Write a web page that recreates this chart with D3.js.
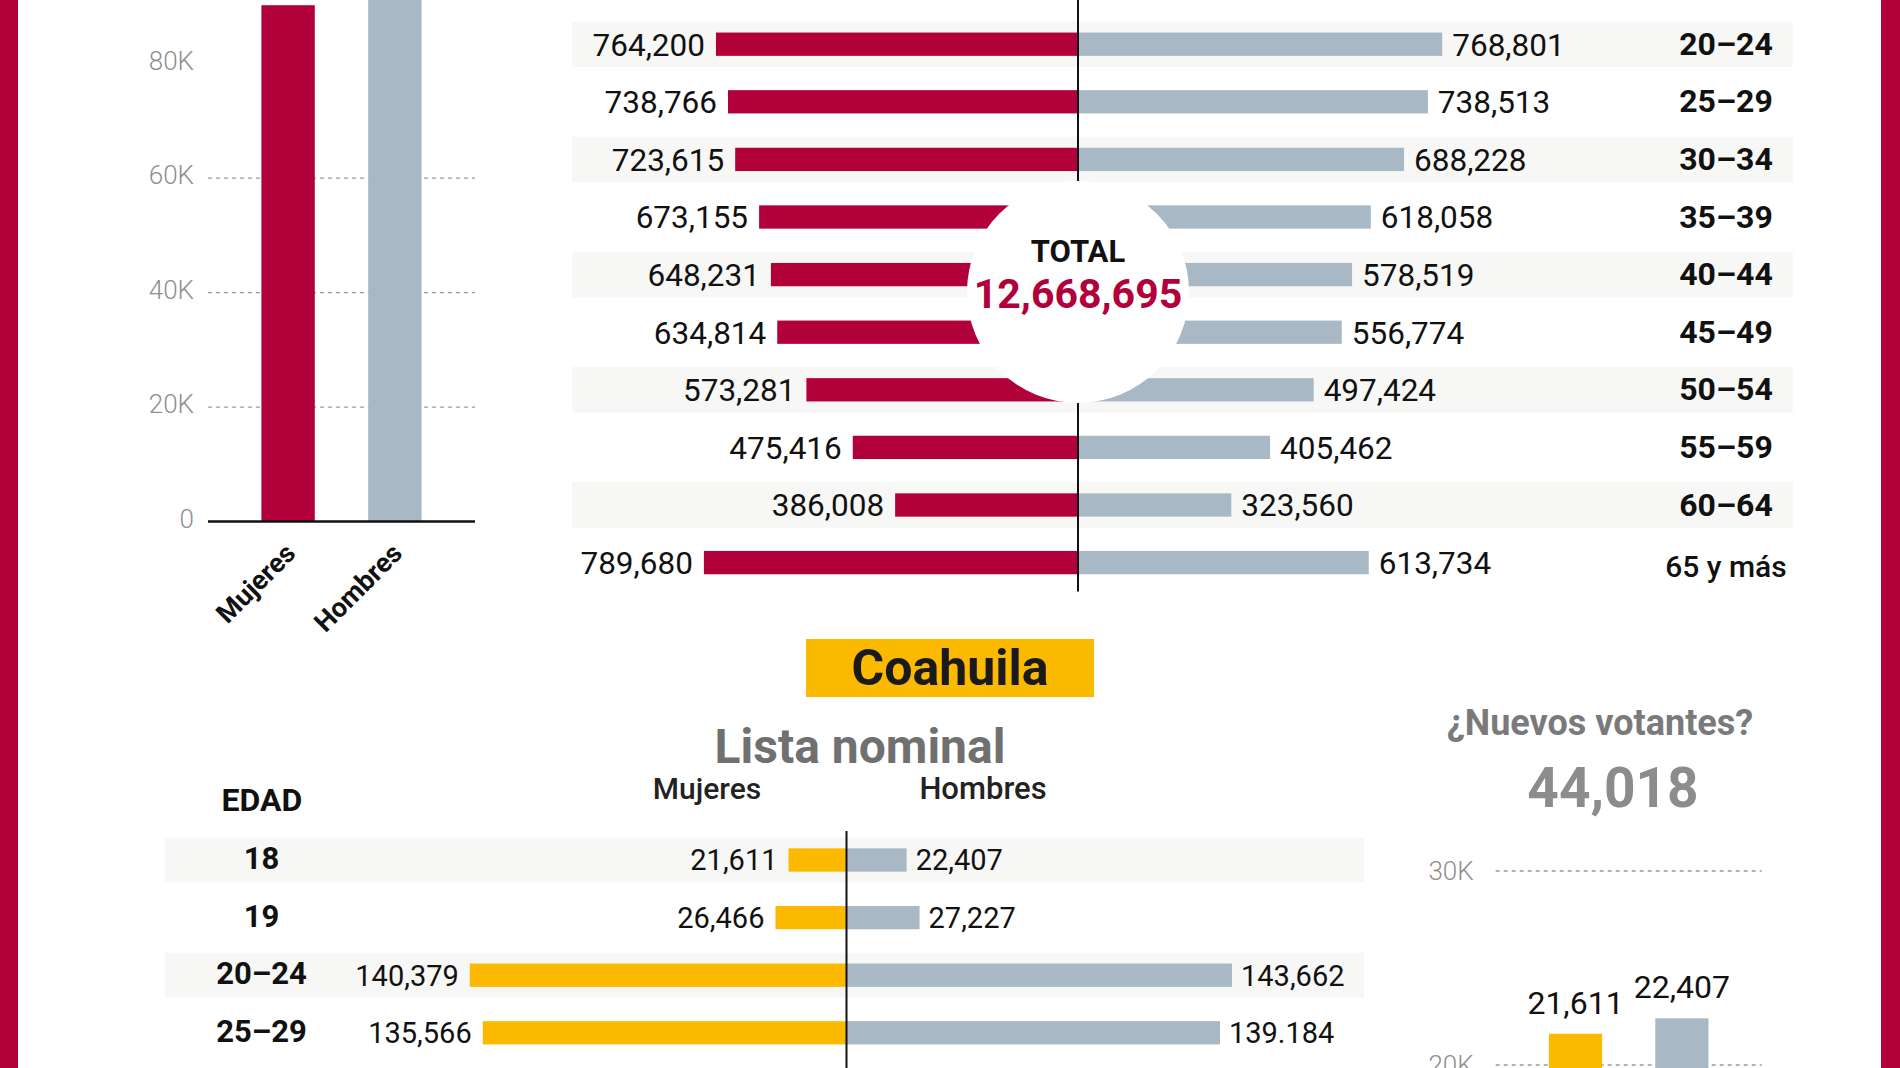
<!DOCTYPE html>
<html><head><meta charset="utf-8">
<script src="https://cdn.jsdelivr.net/npm/d3@7"></script>
<style>
body{margin:0;background:#fff}
svg{display:block}
text{font-family:Roboto,"Noto Sans",sans-serif}
</style>
</head><body>
<svg id="c" width="1900" height="1068"></svg>
<script>
// ---------- DATA ----------
const sexes = ["Mujeres", "Hombres"];
const jovenes18 = [90200, 94000];
const leftTicks = [0, 20000, 40000, 60000, 80000];
const leftGrid = [20000, 40000, 60000];

const ageGroups = ["20–24","25–29","30–34","35–39","40–44","45–49","50–54","55–59","60–64","65 y más"];
const mujeres = [764200, 738766, 723615, 673155, 648231, 634814, 573281, 475416, 386008, 789680];
const hombres = [768801, 738513, 688228, 618058, 578519, 556774, 497424, 405462, 323560, 613734];
const totalLabel = "12,668,695";

const coahAges = ["18", "19", "20–24", "25–29"];
const coahMujeres = [21611, 26466, 140379, 135566];
const coahHombres = [22407, 27227, 143662, 139184];
const coahHombresLabels = ["22,407", "27,227", "143,662", "139.184"];

const nuevos = [21611, 22407];
const nuevosTicks = [20000, 30000];
const nuevosTotal = "44,018";

// ---------- STYLE ----------
const RED = "#b1003a", GRAY = "#a8b9c5", YELLOW = "#fbb900", BAND = "#f7f7f5";
const fmt = d3.format(",");
const svg = d3.select("#c");

// border
svg.append("rect").attr("x",0).attr("y",0).attr("width",18).attr("height",1068).attr("fill",RED);
svg.append("rect").attr("x",1881).attr("y",0).attr("width",19).attr("height",1068).attr("fill",RED);

// ---------- LEFT COLUMN CHART ----------
const yL = d3.scaleLinear().domain([0, 80000]).range([521.6, 63.6]);
const xL = d3.scaleBand().domain(sexes).range([208, 475]).paddingInner(0.5).paddingOuter(0.5);
const gL = svg.append("g");
gL.selectAll(".grid").data(leftGrid).join("line")
  .attr("x1",208).attr("x2",475).attr("y1",d=>yL(d)).attr("y2",d=>yL(d))
  .attr("stroke","#9a9a9a").attr("stroke-width",1.3).attr("stroke-dasharray","4,4");
const axL = gL.append("g").attr("transform","translate(208,0)")
  .call(d3.axisLeft(yL).tickValues(leftTicks).tickSize(0).tickPadding(14).tickFormat(d=> d===0 ? "0" : (d/1000)+"K"));
axL.select(".domain").remove();
axL.selectAll("text").attr("font-size",26).attr("fill","#8f8f8f").attr("font-family","Roboto").attr("font-weight",300).attr("dy","0.22em");
gL.selectAll(".bar").data(sexes).join("rect")
  .attr("x",d=>xL(d)).attr("width",xL.bandwidth())
  .attr("y",(d,i)=>yL(jovenes18[i])).attr("height",(d,i)=>yL(0)-yL(jovenes18[i]))
  .attr("fill",(d,i)=> i===0 ? RED : GRAY);
gL.append("line").attr("x1",208).attr("x2",475).attr("y1",yL(0)).attr("y2",yL(0))
  .attr("stroke","#111").attr("stroke-width",2.5);
gL.selectAll(".xl").data(sexes).join("text")
  .attr("transform",d=>`translate(${xL(d)+xL.bandwidth()/2+9},555) rotate(-45)`)
  .attr("text-anchor","end").attr("font-size",27).attr("font-weight",700).attr("fill","#111")
  .text(d=>d);

// ---------- TOP PYRAMID ----------
const cx0 = 1078;
const yT = d3.scaleBand().domain(ageGroups).range([15.4, 591.4]);
const xT = d3.scaleLinear().domain([0, 800000]).range([0, 379]);
const gT = svg.append("g");
const rowC = a => yT(a) + yT.bandwidth()/2;
gT.selectAll(".band").data(ageGroups.filter((a,i)=>i%2===0)).join("rect")
  .attr("x",572).attr("width",1793-572).attr("y",a=>rowC(a)-22.8).attr("height",45.6).attr("fill",BAND);
gT.selectAll(".bm").data(ageGroups).join("rect")
  .attr("x",(a,i)=>cx0 - xT(mujeres[i])).attr("width",(a,i)=>xT(mujeres[i]))
  .attr("y",a=>rowC(a)-11.65).attr("height",23.3).attr("fill",RED);
gT.selectAll(".bh").data(ageGroups).join("rect")
  .attr("x",cx0).attr("width",(a,i)=>xT(hombres[i]))
  .attr("y",a=>rowC(a)-11.65).attr("height",23.3).attr("fill",GRAY);
gT.append("line").attr("x1",cx0).attr("x2",cx0).attr("y1",0).attr("y2",591.4)
  .attr("stroke","#111").attr("stroke-width",2);
gT.selectAll(".lm").data(ageGroups).join("text")
  .attr("x",(a,i)=>cx0 - xT(mujeres[i]) - 11).attr("y",a=>rowC(a)).attr("dy","0.36em")
  .attr("text-anchor","end").attr("font-size",31.5).attr("fill","#111").text((a,i)=>fmt(mujeres[i]));
gT.selectAll(".lh").data(ageGroups).join("text")
  .attr("x",(a,i)=>cx0 + xT(hombres[i]) + 10).attr("y",a=>rowC(a)).attr("dy","0.36em")
  .attr("text-anchor","start").attr("font-size",31.5).attr("fill","#111").text((a,i)=>fmt(hombres[i]));
gT.selectAll(".age").data(ageGroups).join("text")
  .attr("x",1726).attr("y",(a,i)=>rowC(a) + (i===ageGroups.length-1 ? 4 : -1)).attr("dy","0.36em")
  .attr("text-anchor","middle").attr("font-size",(a,i)=> i===ageGroups.length-1 ? 30 : 32)
  .attr("font-weight",(a,i)=> i===ageGroups.length-1 ? 500 : 700).attr("fill","#111").text(a=>a);
// total circle
gT.append("circle").attr("cx",cx0).attr("cy",292).attr("r",111).attr("fill","#fff");
gT.append("text").attr("x",cx0).attr("y",262).attr("text-anchor","middle")
  .attr("font-size",31).attr("font-weight",700).attr("fill","#111").text("TOTAL");
gT.append("text").attr("x",cx0).attr("y",308).attr("text-anchor","middle")
  .attr("font-size",41).attr("font-weight",700).attr("fill",RED).text(totalLabel);

// ---------- COAHUILA ----------
svg.append("rect").attr("x",806).attr("y",639).attr("width",288).attr("height",58).attr("fill",YELLOW);
svg.append("text").attr("x",950).attr("y",685).attr("text-anchor","middle")
  .attr("font-size",50).attr("font-weight",700).attr("fill","#1a1a1a").text("Coahuila");
svg.append("text").attr("x",860).attr("y",763).attr("text-anchor","middle")
  .attr("font-size",48).attr("font-weight",700).attr("fill","#707070").text("Lista nominal");
svg.append("text").attr("x",707).attr("y",799).attr("text-anchor","middle")
  .attr("font-size",30).attr("font-weight",500).attr("fill","#222").text("Mujeres");
svg.append("text").attr("x",983).attr("y",799).attr("text-anchor","middle")
  .attr("font-size",31).attr("font-weight",500).attr("fill","#222").text("Hombres");
svg.append("text").attr("x",262).attr("y",811).attr("text-anchor","middle")
  .attr("font-size",32).attr("font-weight",700).attr("fill","#111").text("EDAD");

const cxB = 846.5;
const yB = d3.scaleBand().domain(coahAges).range([831.2, 1061.6]);
const xB = d3.scaleLinear().domain([0, 150000]).range([0, 402.5]);
const gB = svg.append("g");
const rowB = a => yB(a) + yB.bandwidth()/2;
gB.selectAll(".band").data(coahAges.filter((a,i)=>i%2===0)).join("rect")
  .attr("x",165).attr("width",1364-165).attr("y",a=>rowB(a)-22.5).attr("height",45).attr("fill",BAND);
gB.selectAll(".bm").data(coahAges).join("rect")
  .attr("x",(a,i)=>cxB - xB(coahMujeres[i])).attr("width",(a,i)=>xB(coahMujeres[i]))
  .attr("y",a=>rowB(a)-11.65).attr("height",23.3).attr("fill",YELLOW);
gB.selectAll(".bh").data(coahAges).join("rect")
  .attr("x",cxB).attr("width",(a,i)=>xB(coahHombres[i]))
  .attr("y",a=>rowB(a)-11.65).attr("height",23.3).attr("fill",GRAY);
gB.append("line").attr("x1",cxB).attr("x2",cxB).attr("y1",831).attr("y2",1068)
  .attr("stroke","#111").attr("stroke-width",2);
gB.selectAll(".lm").data(coahAges).join("text")
  .attr("x",(a,i)=>cxB - xB(coahMujeres[i]) - 11).attr("y",a=>rowB(a)).attr("dy","0.36em")
  .attr("text-anchor","end").attr("font-size",29).attr("fill","#111").text((a,i)=>fmt(coahMujeres[i]));
gB.selectAll(".lh").data(coahAges).join("text")
  .attr("x",(a,i)=>cxB + xB(coahHombres[i]) + 9).attr("y",a=>rowB(a)).attr("dy","0.36em")
  .attr("text-anchor","start").attr("font-size",29).attr("fill","#111").text((a,i)=>coahHombresLabels[i]);
gB.selectAll(".age").data(coahAges).join("text")
  .attr("x",261.5).attr("y",a=>rowB(a)-2).attr("dy","0.36em")
  .attr("text-anchor","middle").attr("font-size",31).attr("font-weight",700).attr("fill","#111").text(a=>a);

// ---------- NUEVOS VOTANTES ----------
svg.append("text").attr("x",1600).attr("y",735).attr("text-anchor","middle")
  .attr("font-size",36).attr("font-weight",700).attr("fill","#7a7a7a").text("¿Nuevos votantes?");
svg.append("text").attr("x",1613).attr("y",807).attr("text-anchor","middle")
  .attr("font-size",55).attr("font-weight",700).attr("fill","#8c8c8c").text(nuevosTotal);
const yN = d3.scaleLinear().domain([20000, 30000]).range([1065, 871]);
const xN = d3.scaleBand().domain(sexes).range([1495.7, 1761.7]).paddingInner(0.5).paddingOuter(0.5);
const gN = svg.append("g");
gN.selectAll(".grid").data(nuevosTicks).join("line")
  .attr("x1",1495.7).attr("x2",1761.7).attr("y1",d=>yN(d)).attr("y2",d=>yN(d))
  .attr("stroke","#9a9a9a").attr("stroke-width",1.3).attr("stroke-dasharray","4,4");
const axN = gN.append("g").attr("transform","translate(1495.7,0)")
  .call(d3.axisLeft(yN).tickValues(nuevosTicks).tickSize(0).tickPadding(22).tickFormat(d=>(d/1000)+"K"));
axN.select(".domain").remove();
axN.selectAll("text").attr("font-size",26).attr("fill","#8f8f8f").attr("font-family","Roboto").attr("font-weight",300);
gN.selectAll(".bar").data(sexes).join("rect")
  .attr("x",d=>xN(d)).attr("width",xN.bandwidth())
  .attr("y",(d,i)=>yN(nuevos[i])).attr("height",(d,i)=>yN(0)-yN(nuevos[i]))
  .attr("fill",(d,i)=> i===0 ? YELLOW : GRAY);
gN.selectAll(".vl").data(sexes).join("text")
  .attr("x",d=>xN(d)+xN.bandwidth()/2).attr("y",(d,i)=>yN(nuevos[i])-20)
  .attr("text-anchor","middle").attr("font-size",32).attr("fill","#111").text((d,i)=>fmt(nuevos[i]));
</script>
</body></html>
